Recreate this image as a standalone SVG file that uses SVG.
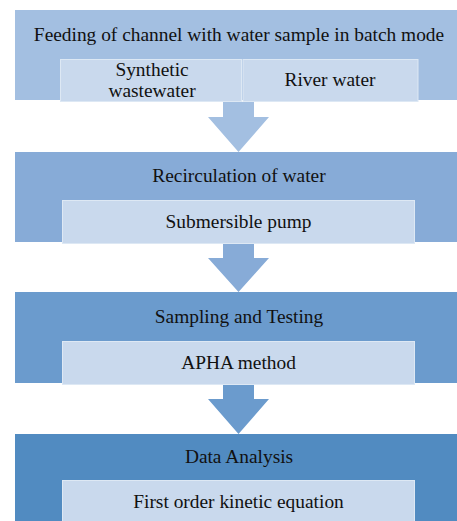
<svg xmlns="http://www.w3.org/2000/svg" width="457" height="521" viewBox="0 0 457 521">
<style>
text{font-family:"Liberation Serif","Times New Roman",serif;font-size:19.4px;fill:#111;text-anchor:middle}
.inner{fill:#c9d9ed;stroke:#dde8f4;stroke-width:1}
</style>
<rect width="457" height="521" fill="#fff"/>
<g id="step1">
<rect x="15" y="10" width="442" height="90" fill="#a3bfe1"/>
<text x="239" y="41">Feeding of channel with water sample in batch mode</text>
</g>
<g id="synthetic">
<rect class="inner" x="60.5" y="59.5" width="181" height="42"/>
<text x="152" y="76">Synthetic</text>
<text x="152" y="97">wastewater</text>
</g>
<g id="river">
<rect class="inner" x="243" y="59.5" width="175" height="42"/>
<text x="330" y="86">River water</text>
</g>
<g id="step2">
<rect x="15" y="152" width="442" height="90" fill="#87abd7"/>
<text x="239" y="182">Recirculation of water</text>
<rect class="inner" x="62.5" y="200.5" width="352" height="43"/>
<text x="238.5" y="228">Submersible pump</text>
</g>
<g id="step3">
<rect x="15" y="292" width="442" height="91" fill="#6b9bcd"/>
<text x="239" y="323">Sampling and Testing</text>
<rect class="inner" x="62.5" y="341.5" width="352" height="43"/>
<text x="238.5" y="369">APHA method</text>
</g>
<g id="step4">
<rect x="15" y="434" width="442" height="87" fill="#518bc1"/>
<text x="239" y="463">Data Analysis</text>
<rect class="inner" x="62.5" y="480.5" width="352" height="45"/>
<text x="238.5" y="508">First order kinetic equation</text>
</g>
<g id="connectors">
<polygon points="223,102 254,102 254,117 269,117 238.5,152 208,117 223,117" fill="#a3bfe1"/>
<polygon points="223,244 254,244 254,258 269,258 238.5,292 208,258 223,258" fill="#87abd7"/>
<polygon points="223,385 254,385 254,399 269,399 238.5,434 208,399 223,399" fill="#6b9bcd"/>
</g>
</svg>
